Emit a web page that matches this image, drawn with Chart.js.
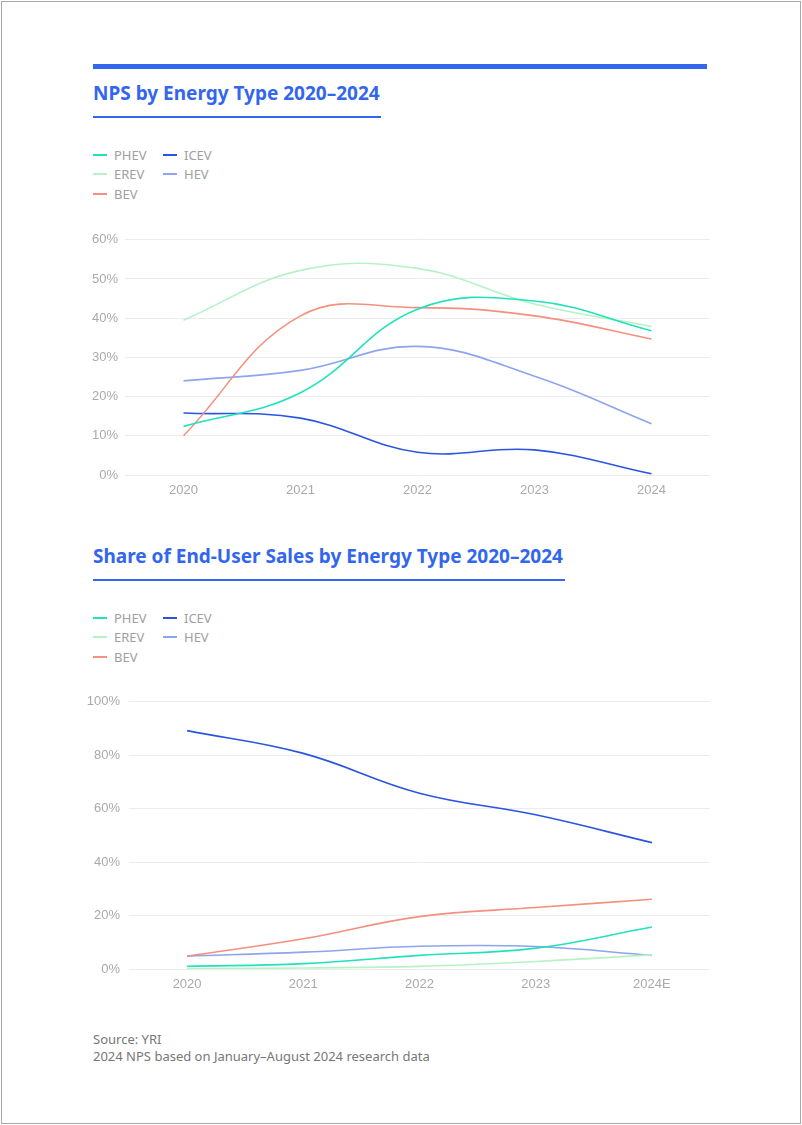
<!DOCTYPE html>
<html>
<head>
<meta charset="utf-8">
<script src="https://cdn.jsdelivr.net/npm/chart.js@4.4.1/dist/chart.umd.min.js"></script>
<style>
  html, body { margin: 0; padding: 0; background: #fff; }
  body { width: 802px; height: 1125px; position: relative; overflow: hidden; font-family: "Noto Sans", "Open Sans", Arial, sans-serif; }
  .frame { position: absolute; left: 1px; top: 1px; width: 798px; height: 1121px; border: 1px solid #a8a8a8; }
  .topbar { position: absolute; left: 93px; top: 64px; width: 614px; height: 5px; background: #3366ee; }
  .title { position: absolute; left: 93px; color: #3366ee; font-weight: 700; font-size: 19px; white-space: nowrap; line-height: 24px; }
  .uline { position: absolute; left: 93px; height: 2px; background: #3366ee; }
  .legend { position: absolute; left: 93px; display: grid; grid-template-rows: repeat(3, 19.5px); grid-auto-flow: column; grid-auto-columns: 70px; font-size: 13px; color: #a0a0a0; }
  .legend .item { display: flex; align-items: center; height: 19.5px; }
  .legend .sw { width: 14px; height: 2px; margin-right: 7px; }
  .wrap { position: absolute; left: 80px; width: 640px; }
  .foot { position: absolute; left: 93px; top: 1031px; font-size: 13px; color: #777; line-height: 17px; }
</style>
</head>
<body>
<div class="frame"></div>
<div class="topbar"></div>
<div class="title" id="t1" style="top:81px">NPS by Energy Type 2020–2024</div>
<div class="uline" style="top:116px;width:288px"></div>
<div class="legend" id="lg1" style="top:145px"></div>
<div class="wrap" style="top:225px;height:278px"><canvas id="c1"></canvas></div>

<div class="title" id="t2" style="top:544px">Share of End-User Sales by Energy Type 2020–2024</div>
<div class="uline" style="top:579px;width:472px"></div>
<div class="legend" id="lg2" style="top:608px"></div>
<div class="wrap" style="top:685px;height:312px"><canvas id="c2"></canvas></div>

<div class="foot">Source: YRI<br>2024 NPS based on January–August 2024 research data</div>

<script>
// ---- Data ----
const seriesNames = ["PHEV", "EREV", "BEV", "ICEV", "HEV"];
const seriesColors = ["#22e2bb", "#b6f2c6", "#f4907e", "#2a55e0", "#8da4ee"];

const npsYears = ["2020", "2021", "2022", "2023", "2024"];
const npsPHEV = [12.4, 21, 42.3, 44.4, 36.8];
const npsEREV = [39.5, 52.2, 52.7, 43.6, 37.9];
const npsBEV  = [10, 40.6, 42.7, 40.6, 34.7];
const npsICEV = [15.8, 14.5, 5.8, 6.4, 0.3];
const npsHEV  = [24, 26.7, 32.8, 25.2, 13.1];

const shareYears = ["2020", "2021", "2022", "2023", "2024E"];
const sharePHEV = [1, 2, 5.1, 7.8, 15.7];
const shareEREV = [0.1, 0.4, 1, 2.8, 5.3];
const shareBEV  = [4.8, 11.3, 19.6, 23, 26.1];
const shareICEV = [89.2, 80.7, 65.8, 57.7, 47.3];
const shareHEV  = [4.8, 6.3, 8.5, 8.4, 5.1];

const npsTicks = [0, 10, 20, 30, 40, 50, 60];
const shareTicks = [0, 20, 40, 60, 80, 100];

function buildLegend(id) {
  const el = document.getElementById(id);
  seriesNames.forEach((n, i) => {
    const d = document.createElement('div');
    d.className = 'item';
    d.innerHTML = '<span class="sw" style="background:' + seriesColors[i] + '"></span>' + n;
    el.appendChild(d);
  });
}
buildLegend('lg1');
buildLegend('lg2');

function makeDatasets(arrs) {
  return arrs.map((a, i) => ({
    label: seriesNames[i],
    data: a,
    borderColor: seriesColors[i],
    backgroundColor: seriesColors[i],
    borderWidth: 1.6,
    pointRadius: 0,
    tension: 0.4,
    fill: false
  }));
}

const tickFont = { size: 13, family: '"Liberation Sans", Arial, sans-serif' };

function makeChart(id, labels, arrs, ticks, yWidth, labelPad) {
  const maxV = ticks[ticks.length - 1];
  const step = ticks[1] - ticks[0];
  return new Chart(document.getElementById(id), {
    type: 'line',
    data: { labels: labels, datasets: makeDatasets(arrs) },
    options: {
      responsive: true,
      maintainAspectRatio: false,
      animation: false,
      layout: { padding: { top: 10, right: 10, left: 0, bottom: 0 } },
      plugins: { legend: { display: false }, tooltip: { enabled: false } },
      scales: {
        x: {
          offset: true,
          grid: { display: false, drawTicks: false },
          border: { display: false },
          ticks: { color: '#aaaaaa', font: tickFont, padding: 8, maxRotation: 0 },
          afterFit: s => { s.height = 28; }
        },
        y: {
          min: 0, max: maxV,
          grid: { color: '#ececec', lineWidth: 1, drawTicks: false },
          border: { display: false },
          afterBuildTicks: s => { s.ticks = ticks.map(v => ({ value: v })); },
          ticks: { stepSize: step, color: '#aaaaaa', font: tickFont, padding: labelPad, callback: v => v + '%' },
          afterFit: s => { s.width = yWidth; }
        }
      }
    }
  });
}

makeChart('c1', npsYears, [npsPHEV, npsEREV, npsBEV, npsICEV, npsHEV], npsTicks, 45, 7);
makeChart('c2', shareYears, [sharePHEV, shareEREV, shareBEV, shareICEV, shareHEV], shareTicks, 49, 9);
</script>
</body>
</html>
